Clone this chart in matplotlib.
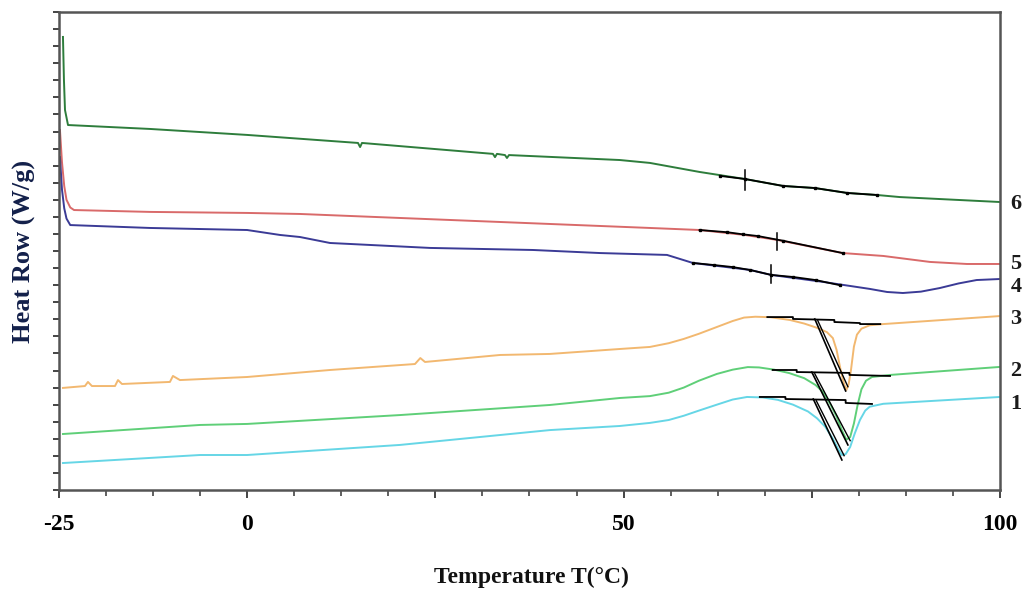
import matplotlib
matplotlib.use("Agg")
import matplotlib.pyplot as plt
import numpy as np

# ---------------- data ----------------
# Curve 6 (dark green)
x6 = [-24.47, -24.34, -24.2, -23.8, -12.91, 0.0, 14.72, 15.0, 15.25, 32.65, 32.92, 33.18,
      34.25, 34.51, 34.78, 49.5, 53.5, 60.1, 66.1, 71.2, 75.4, 79.7, 83.7, 86.7, 100.0]
y6 = [26.54, 24.02, 22.26, 21.38, 21.15, 20.8, 20.33, 20.09, 20.33, 19.69, 19.5, 19.69,
      19.62, 19.45, 19.62, 19.33, 19.16, 18.63, 18.22, 17.81, 17.69, 17.4, 17.28, 17.16, 16.87]

# Curve 5 (red)
x5 = [-24.87, -24.6, -24.3, -24.0, -23.5, -23.0, -12.91, 0.0, 7.01, 33.6, 53.5, 60.1,
      66.1, 70.4, 79.1, 84.5, 90.7, 95.6, 100.0]
y5 = [21.09, 19.2, 17.8, 17.0, 16.55, 16.4, 16.29, 16.23, 16.17, 15.7, 15.35, 15.23,
      14.94, 14.65, 13.88, 13.71, 13.36, 13.24, 13.24]

# Curve 4 (navy)
x4 = [-24.87, -24.6, -24.3, -24.0, -23.5, -12.91, 0.0, 4.36, 7.01, 11.0, 24.3, 37.97,
      46.9, 55.77, 59.2, 66.8, 69.6, 76.5, 82.7, 85.0, 87.1, 89.5, 92.0, 94.5, 96.9, 100.0]
y4 = [19.5, 17.6, 16.5, 15.9, 15.52, 15.35, 15.23, 14.94, 14.82, 14.47, 14.18, 14.06,
      13.88, 13.77, 13.3, 12.89, 12.6, 12.19, 11.78, 11.6, 11.54, 11.62, 11.83, 12.1,
      12.3, 12.36]

# Curve 3 (orange)
x3 = [-24.47, -21.55, -21.15, -20.62, -17.56, -17.16, -16.63, -10.26, -9.86, -8.93, 0.0,
      11.0, 22.29, 23.0, 23.62, 33.6, 40.2, 49.5, 53.5, 56.0, 58.0, 60.0, 62.4, 64.5,
      66.0, 67.5, 69.5, 72.1, 74.0, 75.7, 77.0, 77.8, 78.3, 78.8, 79.3, 79.6, 79.9, 80.2,
      80.6, 81.0, 81.6, 82.7, 84.5, 100.0]
y3 = [5.98, 6.09, 6.33, 6.09, 6.09, 6.44, 6.21, 6.33, 6.68, 6.44, 6.62, 7.03, 7.38, 7.73,
      7.5, 7.91, 7.97, 8.26, 8.38, 8.6, 8.85, 9.15, 9.55, 9.9, 10.1, 10.15, 10.12, 9.96,
      9.75, 9.5, 9.25, 8.9, 8.2, 7.1, 6.2, 5.86, 6.2, 7.0, 8.4, 9.1, 9.45, 9.65, 9.72, 10.19]

# Curve 2 (light green)
x2 = [-24.47, -6.27, 0.0, 20.3, 40.2, 49.5, 53.5, 56.0, 58.0, 60.0, 62.4, 64.5, 66.5,
      68.0, 70.0, 72.0, 74.0, 75.5, 76.5, 77.5, 78.3, 79.0, 79.6, 80.1, 80.6, 81.1, 81.6,
      82.2, 83.0, 85.4, 100.0]
y2 = [3.28, 3.81, 3.87, 4.39, 4.98, 5.39, 5.5, 5.7, 6.0, 6.4, 6.8, 7.05, 7.2, 7.18, 7.05,
      6.85, 6.55, 6.15, 5.74, 5.0, 4.3, 3.5, 2.95, 3.1, 3.9, 5.0, 5.9, 6.4, 6.62, 6.74, 7.21]

# Curve 1 (cyan)
x1 = [-24.47, -6.27, 0.0, 20.3, 40.2, 49.5, 53.5, 56.0, 58.0, 60.0, 62.4, 64.5, 66.4,
      68.5, 70.5, 72.5, 74.5, 75.7, 76.8, 77.8, 78.5, 79.0, 79.5, 80.1, 80.7, 81.4, 82.1,
      82.7, 84.5, 100.0]
y1 = [1.58, 2.05, 2.05, 2.64, 3.51, 3.75, 3.93, 4.1, 4.35, 4.65, 5.0, 5.3, 5.45, 5.42,
      5.28, 5.0, 4.6, 4.2, 3.7, 3.0, 2.4, 2.05, 2.1, 2.52, 3.3, 4.1, 4.65, 4.88, 5.05, 5.45]

# Black tangent overlays on curves 6, 5, 4
t6x = [62.8, 66.1, 71.2, 75.4, 79.7, 83.7]
t6y = [18.4, 18.22, 17.81, 17.69, 17.4, 17.28]
t5x = [60.1, 63.8, 65.8, 67.8, 71.2, 79.1]
t5y = [15.23, 15.1, 14.98, 14.88, 14.6, 13.88]
t4x = [59.2, 62.0, 64.5, 66.8, 69.6, 72.5, 75.5, 78.7]
t4y = [13.3, 13.18, 13.06, 12.89, 12.6, 12.48, 12.3, 12.0]
cross_x = [66.1, 70.4, 69.6]
cross_lo = [17.57, 14.06, 12.13]
cross_hi = [18.75, 15.06, 13.18]

# Onset constructions on curves 3, 2, 1
base3_x = [69.1, 72.5, 72.5, 78.0, 78.0, 81.4, 81.4, 84.1]
base3_y = [10.13, 10.13, 10.02, 9.96, 9.84, 9.78, 9.72, 9.72]
diag3_x = [75.4, 79.5]
diag3_y = [10.02, 5.8]
base2_x = [69.8, 73.0, 73.0, 80.0, 80.0, 85.4]
base2_y = [7.03, 7.03, 6.91, 6.86, 6.74, 6.68]
diag2_x = [75.0, 79.8]
diag2_y = [6.91, 2.64]
base1_x = [68.1, 71.5, 71.5, 79.5, 79.5, 83.0]
base1_y = [5.45, 5.45, 5.33, 5.27, 5.1, 5.04]
diag1_x = [75.2, 79.0]
diag1_y = [5.33, 1.76]

curve_labels = ["6", "5", "4", "3", "2", "1"]
label_y = [16.75, 13.25, 11.9, 10.0, 7.0, 5.05]

x_ticks = [-25, 0, 50, 100]
x_ticklabels = ["-25", "0", "50", "100"]

# ---------------- plotting ----------------
fig = plt.figure(figsize=(10.31, 5.92), dpi=100)
ax = fig.add_axes([0.0572, 0.1723, 0.9127, 0.8074])

serif = ["Liberation Serif", "DejaVu Serif"]

ax.plot(x6, y6, color="#2e7d3c", lw=1.4)
ax.plot(x5, y5, color="#d96a6a", lw=1.4)
ax.plot(x4, y4, color="#3b3b96", lw=1.4)
ax.plot(x3, y3, color="#f2b870", lw=1.4)
ax.plot(x2, y2, color="#5fcf78", lw=1.4)
ax.plot(x1, y1, color="#66d6e6", lw=1.4)

for tx, ty in [(t6x, t6y), (t5x, t5y), (t4x, t4y)]:
    ax.plot(tx, ty, color="black", lw=1.3, marker="s", ms=1.6)
for cx, lo, hi in zip(cross_x, cross_lo, cross_hi):
    ax.plot([cx, cx], [lo, hi], color="black", lw=1.1)

for bx, by, dx, dy in [(base3_x, base3_y, diag3_x, diag3_y),
                       (base2_x, base2_y, diag2_x, diag2_y),
                       (base1_x, base1_y, diag1_x, diag1_y)]:
    ax.plot(bx, by, color="black", lw=1.3)
    ax.plot(dx, dy, color="black", lw=1.2)
    ax.plot([dx[0] + 0.4, dx[1] + 0.3], [dy[0] - 0.1, dy[1] + 0.25], color="black", lw=1.0)

ax.set_xlim(-25, 100)
ax.set_ylim(0, 28)

ax.set_xticks(np.arange(-25, 101, 25))
ax.set_xticks(np.arange(-25, 101, 6.25), minor=True)
ax.set_xticklabels([], minor=True)
ax.set_xticklabels(["", "", "", "", "", ""])
for v, lab in zip(x_ticks, x_ticklabels):
    ax.text(v, -1.4, lab, ha="center", va="top", fontsize=17, fontweight="bold",
            family=serif, transform=ax.transData)
ax.set_yticks(np.arange(0, 28.01, 1))
ax.set_yticklabels([])

ax.tick_params(axis="x", which="major", direction="out", length=6, width=1.4, colors="#444444")
ax.tick_params(axis="x", which="minor", direction="out", length=4, width=1.2, colors="#444444")
ax.tick_params(axis="y", which="major", direction="out", length=4, width=1.4, colors="#444444")
ax.tick_params(right=False, top=False)

for s in ax.spines.values():
    s.set_color("#555555")
    s.set_linewidth(1.8)

for lab, yv in zip(curve_labels, label_y):
    ax.text(101.4, yv, lab, ha="left", va="center", fontsize=16, fontweight="bold",
            family=serif, color="#1a1a1a", clip_on=False)

fig.text(0.515, 0.025, "Temperature T(°C)", ha="center", va="center", fontsize=17,
         fontweight="bold", family=serif, color="#111111")
fig.text(0.024, 0.575, "Heat Row (W/g)", ha="center", va="center", rotation=90,
         fontsize=19, fontweight="bold", family=serif, color="#13204a")

fig.savefig("out.png", dpi=100, facecolor="white")
